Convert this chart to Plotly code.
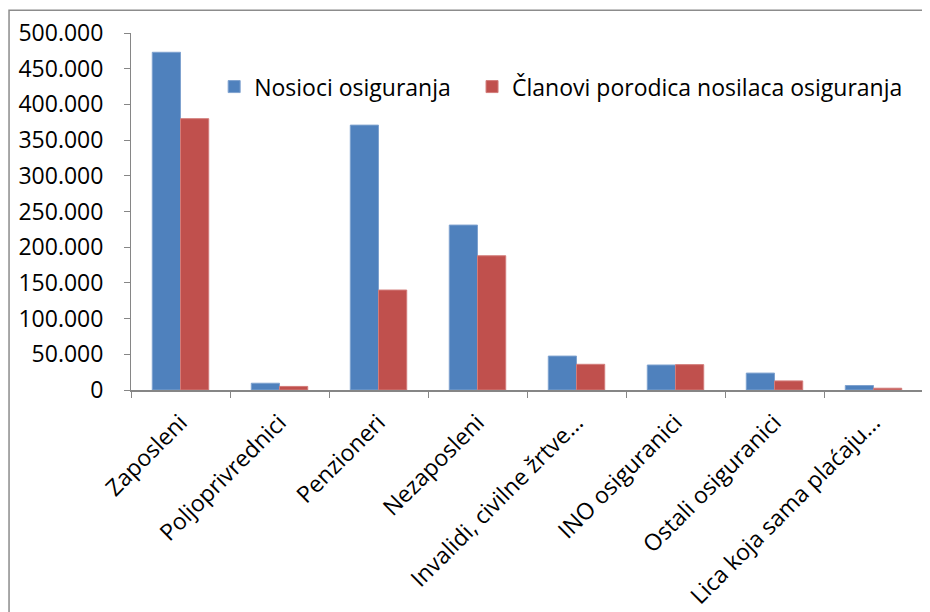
import plotly.graph_objects as go

categories = ["Zaposleni", "Poljoprivrednici", "Penzioneri", "Nezaposleni",
              "Invalidi, civilne žrtve...", "INO osiguranici", "Ostali osiguranici",
              "Lica koja sama plaćaju..."]
nosioci = [473000, 9500, 371000, 231000, 47500, 35000, 23700, 6300]
clanovi = [380000, 5000, 140000, 188000, 36000, 35500, 12700, 2500]
series_names = ["Nosioci osiguranja", "Članovi porodica nosilaca osiguranja"]
y_tick_values = [0, 50000, 100000, 150000, 200000, 250000, 300000, 350000, 400000, 450000, 500000]
y_tick_labels = ["0", "50.000", "100.000", "150.000", "200.000", "250.000", "300.000",
                 "350.000", "400.000", "450.000", "500.000"]

FONT = "Open Sans"
AXIS = "#868686"
FS = 23

fig = go.Figure()
fig.add_trace(go.Bar(x=categories, y=nosioci, name=series_names[0], legend="legend",
                     marker=dict(color="#4F81BD", line=dict(color="#7FA2CF", width=1))))
fig.add_trace(go.Bar(x=categories, y=clanovi, name=series_names[1], legend="legend2",
                     marker=dict(color="#C0504D", line=dict(color="#D27C7A", width=1))))

legend_common = dict(orientation="h", xanchor="left", yanchor="top",
                     font=dict(family=FONT, size=FS, color="black"),
                     bgcolor="rgba(0,0,0,0)")

fig.update_layout(
    width=922, height=604,
    margin=dict(l=123, r=7, t=25, b=222, autoexpand=False),
    paper_bgcolor="white", plot_bgcolor="white",
    barmode="group", bargap=0.43, bargroupgap=0,
    font=dict(family=FONT, size=FS, color="black"),
    showlegend=True,
    legend=dict(x=0.105, y=0.91, **legend_common),
    legend2=dict(x=0.4306, y=0.91, **legend_common),
    xaxis=dict(type="category", tickson="boundaries", ticks="outside", ticklen=6,
               tickcolor=AXIS, showline=True, linecolor=AXIS, linewidth=2,
               tickangle=-45, showgrid=False, tickfont=dict(family=FONT, size=FS),
               ticklabelstandoff=8, range=[-0.5, 7.5]),
    yaxis=dict(range=[0, 500000], tickvals=y_tick_values, ticktext=y_tick_labels,
               ticks="outside", ticklen=6, tickcolor=AXIS, showline=True,
               linecolor=AXIS, linewidth=1, showgrid=False, zeroline=False,
               ticklabelstandoff=16, tickfont=dict(family=FONT, size=FS)),
)

fig.add_shape(type="rect", xref="paper", yref="paper",
              x0=-0.154, x1=1.005, y0=-0.65, y1=1.064,
              line=dict(color="#8C8C8C", width=1.5), fillcolor="rgba(0,0,0,0)",
              layer="below")

fig.write_html("out.html")
